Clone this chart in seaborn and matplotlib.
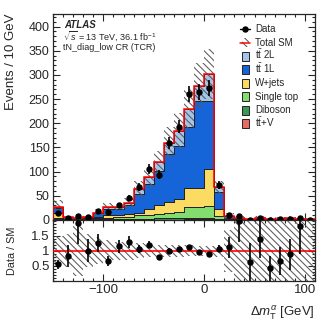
import numpy as np
import pandas as pd
import matplotlib
matplotlib.use("Agg")
import matplotlib.pyplot as plt
import seaborn as sns
from matplotlib.patches import Rectangle
from matplotlib.lines import Line2D
from matplotlib.ticker import MultipleLocator, FixedLocator, FixedFormatter

# ---------------- data ----------------
bin_edges = list(range(-150, 111, 10))
bin_centers = [-145, -135, -125, -115, -105, -95, -85, -75, -65, -55, -45, -35, -25,
               -15, -5, 5, 15, 25, 35, 45, 55, 65, 75, 85, 95, 105]

ttv = [0.3, 0.1, 0.1, 0.1, 0.2, 0.3, 0.3, 0.4, 0.6, 0.7, 0.8, 1.0, 1.0, 1.2, 1.4, 1.5, 0.5,
       0.2, 0.1, 0.1, 0.1, 0.1, 0.1, 0.1, 0.1, 0.1]
diboson = [1.2, 0.4, 0.3, 0.5, 1.0, 1.7, 1.7, 2.1, 2.4, 2.3, 2.7, 3.0, 3.0, 3.8, 3.6, 3.5, 1.5,
           0.5, 0.3, 0.15, 0.3, 0.2, 0.2, 0.3, 0.2, 0.2]
single_top = [3.0, 0.8, 0.6, 1.0, 2.0, 3.0, 3.5, 3.5, 7.0, 7.0, 9.5, 11, 13, 21, 22, 23, 6,
              1.5, 0.6, 0.25, 0.5, 0.3, 0.5, 0.5, 0.3, 0.3]
wjets = [9.0, 1.5, 1.2, 1.8, 3.0, 5.0, 5.0, 6.0, 4.0, 12, 17, 22, 27, 40, 39, 78, 14,
         2.0, 1.0, 0.35, 0.8, 0.5, 0.7, 0.8, 0.5, 0.4]
tt1l = [11.5, 2.6, 1.6, 3.0, 7.3, 13.5, 13, 19, 39, 52, 72, 99, 109, 126, 181, 141, 35,
        3.5, 1.5, 0.55, 1.5, 1.0, 1.2, 1.4, 0.9, 0.8]
tt2l = [2.0, 0.6, 0.4, 0.6, 1.5, 2.5, 2.5, 4.0, 11, 14, 17, 24, 32, 38, 31, 55, 11,
        1.3, 0.5, 0.2, 0.4, 0.3, 0.3, 0.3, 0.2, 0.2]
data = [15, 5, 8, 7, 19, 17, 30, 45, 68, 105, 94, 160, 193, 260, 264, 273, 73,
        10, 8, 1, 5, 1, 2, 3, 4, 0]
rel_unc = [0.5, 0.55, 0.85, 0.55, 0.45, 0.35, 0.3, 0.3, 0.25, 0.22, 0.2, 0.2, 0.2, 0.18,
           0.17, 0.17, 0.2, 0.7, 1.2, 1.2, 1.2, 1.2, 1.2, 1.2, 1.2, 1.2]

proc_labels = [r"$\mathrm{t\bar{t}}$ 2L", r"$\mathrm{t\bar{t}}$ 1L", "W+jets", "Single top",
               "Diboson", r"$\mathrm{t\bar{t}}$+V"]
proc_values = [tt2l, tt1l, wjets, single_top, diboson, ttv]
proc_colors = ["#a3c5ea", "#1564d8", "#fbdb62", "#82dc6e", "#3b9a51", "#e66b62"]

# ---------------- style ----------------
sns.set_theme(style="ticks")
plt.rcParams["font.family"] = ["Liberation Sans", "DejaVu Sans"]
plt.rcParams["mathtext.fontset"] = "custom"
plt.rcParams["mathtext.rm"] = "Liberation Sans"
plt.rcParams["mathtext.it"] = "Liberation Sans:italic"
plt.rcParams["mathtext.bf"] = "Liberation Sans:bold"
plt.rcParams["hatch.linewidth"] = 0.75
plt.rcParams["axes.linewidth"] = 0.9

fig = plt.figure(figsize=(3.32, 3.22), dpi=100)
W, H = 332.0, 322.0
AX_L, AX_T, AX_W, AX_H = 53.0, 14.0, 262.0, 206.0
ax = fig.add_axes([AX_L / W, 1 - (AX_T + AX_H) / H, AX_W / W, AX_H / H])
ax2 = fig.add_axes([AX_L / W, 1 - 281 / H, AX_W / W, 61 / H])

rows = []
for lab, vals in zip(proc_labels, proc_values):
    for c, v in zip(bin_centers, vals):
        rows.append({"x": float(c), "w": float(v), "process": lab})
df = pd.DataFrame(rows)

sns.histplot(data=df, x="x", weights="w", hue="process", hue_order=proc_labels,
             multiple="stack", bins=bin_edges, element="step",
             palette=dict(zip(proc_labels, proc_colors)), alpha=1,
             edgecolor="#222222", linewidth=0.7, legend=False, ax=ax)

edges = np.array(bin_edges, dtype=float)
total = np.sum(np.array(proc_values), axis=0)
unc = np.array(rel_unc)
hi = total * (1 + unc)
lo = np.clip(total * (1 - unc), 0, None)
hatch = "\\\\\\\\\\"
hcol = "#5a5a5a"
ax.fill_between(edges, np.append(lo, lo[-1]), np.append(hi, hi[-1]), step="post",
                facecolor="none", edgecolor=hcol, hatch=hatch, linewidth=0, zorder=3)
ax.stairs(total, edges, color="red", linewidth=1.1, zorder=4)

d = np.array(data, dtype=float)
ax.errorbar(bin_centers, d, yerr=np.sqrt(d), fmt="o", color="black", ms=3.6,
            elinewidth=1.2, capsize=0, zorder=5)

ax.set_xlim(-150, 110)
ax.set_ylim(0, 426)
ax.set_xlabel("")
ax.set_ylabel("Events / 10 GeV", loc="top", fontsize=9.5)
ax.yaxis.set_label_coords(-0.137, 1.0)
ax.xaxis.set_major_locator(MultipleLocator(100))
ax.xaxis.set_minor_locator(MultipleLocator(10))
ax.yaxis.set_major_locator(MultipleLocator(50))
ax.yaxis.set_minor_locator(MultipleLocator(10))
ax.tick_params(axis="x", labelbottom=False)

ax.text(0.042, 0.949, "ATLAS", transform=ax.transAxes, fontsize=7, fontweight="bold",
        fontstyle="italic", va="center", ha="left")
ax.text(0.038, 0.893, r"$\sqrt{s}$ = 13 TeV, 36.1 fb$^{-1}$", transform=ax.transAxes,
        fontsize=6.5, va="center", ha="left")
ax.text(0.038, 0.837, "tN_diag_low CR (TCR)", transform=ax.transAxes,
        fontsize=6.5, va="center", ha="left")


# ---------------- legend (fixed row pitch) ----------------
def axx(px):
    return (px - AX_L) / AX_W


def axy(py):
    return 1 - (py - AX_T) / AX_H


leg_labels = ["Data", "Total SM"] + proc_labels
row0, pitch = 29.0, 13.5
box_l, box_r, box_h = 241.5, 248.5, 9.0
text_x = 255.0
for i, lab in enumerate(leg_labels):
    yc = row0 + i * pitch
    if i == 0:
        ax.add_line(Line2D([axx(240), axx(250)], [axy(yc), axy(yc)], color="black", lw=1.0,
                           transform=ax.transAxes, clip_on=False))
        ax.add_line(Line2D([axx(245)], [axy(yc)], color="black", marker="o", ms=3.6,
                           transform=ax.transAxes, clip_on=False))
    elif i == 1:
        ax.add_patch(Rectangle((axx(box_l), axy(yc + box_h / 2)), axx(box_r) - axx(box_l),
                               axy(yc - box_h / 2) - axy(yc + box_h / 2), facecolor="white",
                               edgecolor=hcol, hatch=hatch, linewidth=0,
                               transform=ax.transAxes, clip_on=False))
        ax.add_line(Line2D([axx(240), axx(250)], [axy(yc), axy(yc)], color="red", lw=1.1,
                           transform=ax.transAxes, clip_on=False))
    else:
        ax.add_patch(Rectangle((axx(box_l), axy(yc + box_h / 2)), axx(box_r) - axx(box_l),
                               axy(yc - box_h / 2) - axy(yc + box_h / 2),
                               facecolor=proc_colors[i - 2], edgecolor="#222222",
                               linewidth=0.7, transform=ax.transAxes, clip_on=False))
    ax.text(axx(text_x), axy(yc + 3.4), lab, transform=ax.transAxes, fontsize=7,
            ha="left", va="baseline")

# ---------------- ratio ----------------
with np.errstate(divide="ignore", invalid="ignore"):
    ratio = np.where(d > 0, d / total, np.nan)
    ratio_err = np.where(d > 0, np.sqrt(d) / total, np.nan)
rhi = 1 + unc
rlo = np.clip(1 - unc, 0, None)
ax2.fill_between(edges, np.append(rlo, rlo[-1]), np.append(rhi, rhi[-1]), step="post",
                 facecolor="none", edgecolor=hcol, hatch=hatch, linewidth=0, zorder=2)
ax2.axhline(1.0, color="red", lw=1.2, zorder=3)
ax2.errorbar(bin_centers, ratio, yerr=ratio_err, fmt="o", color="black", ms=3.6,
             elinewidth=1.2, capsize=0, zorder=5)
ax2.set_xlim(-150, 110)
ax2.set_ylim(0, 2.02)
ax2.xaxis.set_major_locator(MultipleLocator(100))
ax2.xaxis.set_minor_locator(MultipleLocator(10))
ax2.yaxis.set_major_locator(FixedLocator([0.5, 1.0, 1.5]))
ax2.yaxis.set_major_formatter(FixedFormatter(["0.5", "1", "1.5"]))
ax2.yaxis.set_minor_locator(MultipleLocator(0.1))
ax2.set_ylabel("Data / SM", fontsize=7.8)
ax2.yaxis.set_label_coords(-0.137, 0.5)
ax2.set_xlabel(r"$\Delta m_{\mathrm{T}}^{\alpha}$ [GeV]", loc="right", fontsize=9.5)
ax2.xaxis.set_label_coords(1.0, -0.38)

for a in (ax, ax2):
    a.tick_params(which="both", direction="in", top=True, right=True, width=0.8,
                  labelsize=9, pad=2.5)
    a.tick_params(which="major", length=5)
    a.tick_params(which="minor", length=2.5)
    for s in a.spines.values():
        s.set_visible(True)
ax2.tick_params(axis="y", labelsize=9.5)
ax2.tick_params(axis="x", labelsize=9.5)

fig.savefig("out.png", dpi=100)
